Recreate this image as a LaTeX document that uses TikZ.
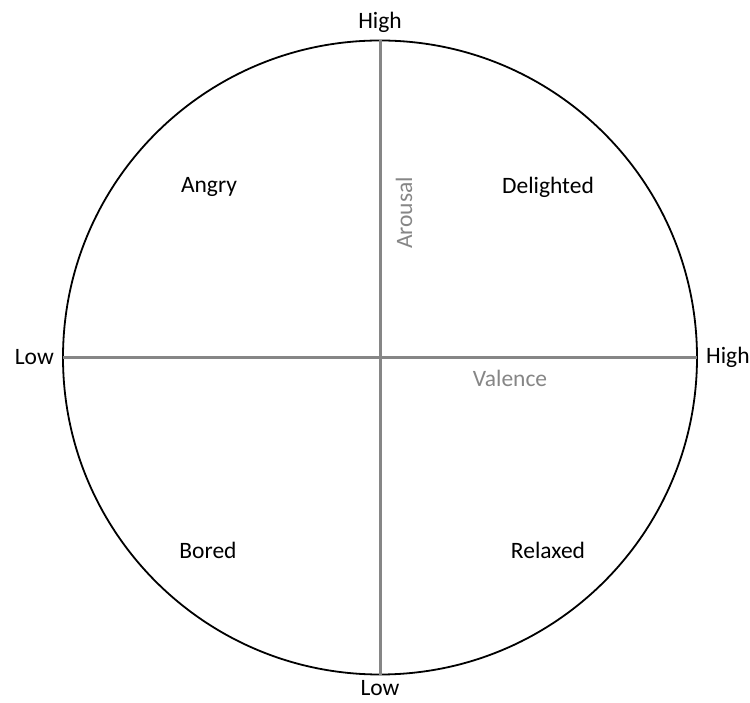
\documentclass[tikz,border=0pt]{standalone}
\usepackage{fontspec}
\setmainfont{Carlito}
\usepackage{tikz}
\usetikzlibrary{positioning}

\begin{document}
\begin{tikzpicture}[x=1bp, y=1bp,
  every node/.style={font=\fontsize{23.5bp}{28bp}\selectfont},
  wheel/.style={draw=black, line width=1.8bp, circle, minimum size=634bp, inner sep=0pt, outer sep=0pt},
  axisline/.style={draw=gray!95, line width=3bp},
  axislabel/.style={text=gray!95},
  endlabel/.style={inner sep=1bp},
  mood/.style={text=black}]
\useasboundingbox (0,0) rectangle (750,703);
\node[wheel] (circ) at (380,345.5) {};
% axes
\draw[axisline] (circ.north) -- (circ.south);
\draw[axisline] (circ.west) -- (circ.east);
\node[endlabel, above=7bp of circ.north] (arhigh) {High};
\node[endlabel, below=5bp of circ.south] (arlow) {Low};
\node[endlabel, left=8bp of circ.west] (vallow) {Low};
\node[endlabel, right=8bp of circ.east] (valhigh) {High};
\node[axislabel, rotate=90] (arousal) at (404,490) {Arousal};
\node[axislabel] (valence) at (510,325) {Valence};
% quadrants
\node[mood] (angry) at (209,516) {Angry};
\node[mood] (delighted) at (548,516) {Delighted};
\node[mood] (bored) at (208,153) {Bored};
\node[mood] (relaxed) at (548,153) {Relaxed};
\end{tikzpicture}
\end{document}
